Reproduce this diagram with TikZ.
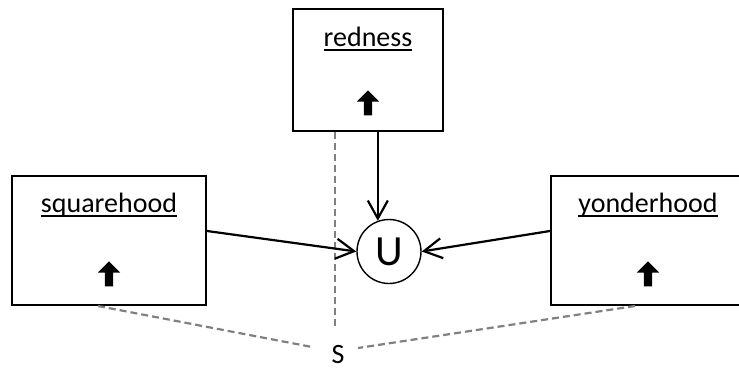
\documentclass[tikz,border=0pt]{standalone}
\usepackage{fontspec}
\setmainfont{Carlito}
\usetikzlibrary{arrows.meta,positioning,shapes.arrows}

\definecolor{dashgray}{RGB}{128,128,128}
\newcommand{\ulword}[1]{\setbox0\hbox{#1}\rlap{\rule[-4.5pt]{\wd0}{2pt}}\box0}

\begin{document}
\begin{tikzpicture}[x=1pt,y=-1pt,
  box/.style={draw,line width=2pt,minimum width=194pt,minimum height=129pt,inner sep=0pt},
  title/.style={font=\fontsize{28}{34}\selectfont,inner sep=0pt,anchor=base},
  uparrow/.style={single arrow,shape border rotate=90,fill=black,draw=none,inner sep=4pt,
    minimum height=25pt,minimum width=22pt,single arrow head extend=7pt,single arrow head indent=0pt},
  link/.style={line width=2.2pt,-{Straight Barb[length=18pt,width=20pt]}},
  tie/.style={dashgray,line width=2.2pt,dash pattern=on 7pt off 4pt}]

\useasboundingbox (0,0) rectangle (739,372);

% the three boxes
\node[box,minimum width=150pt,minimum height=122pt] (redness) at (368,70) {};
\node[box] (squarehood) at (109,240.5) {};
\node[box] (yonderhood) at (648,240.5) {};

\node[title] (rednessT) at ([yshift=-38pt]redness.north) {\ulword{redness}};
\node[title] (squarehoodT) at ([yshift=-37.5pt]squarehood.north) {\ulword{squarehood}};
\node[title] (yonderhoodT) at ([yshift=-37.5pt]yonderhood.north) {\ulword{yonderhood}};

\node[uparrow] (rednessA) at ([yshift=27pt]redness.south) {};
\node[uparrow] (squarehoodA) at ([yshift=30pt]squarehood.south) {};
\node[uparrow] (yonderhoodA) at ([yshift=30pt]yonderhood.south) {};

% union and S
\node[circle,draw,line width=1.4pt,minimum size=64pt,inner sep=0pt,
  font=\fontsize{43}{50}\selectfont] (U) at (389,251.5) {U};
\node[font=\fontsize{28}{34}\selectfont,inner sep=0pt] (S) at (338,355) {S};

% grey ties
\coordinate (vend) at (335,326);
\draw[tie] (redness.south -| vend) -- (vend);
\draw[tie] ([xshift=-11pt]squarehood.south) -- ([xshift=-26pt,yshift=8pt]S.center);
\draw[tie] ([xshift=-13pt]yonderhood.south) -- ([xshift=20pt,yshift=7pt]S.center);

% arrows into U
\draw[link] (redness.south -| U.110) -- (U.110);
\draw[link] ([yshift=9.5pt]squarehood.east) -- (U.west);
\draw[link] ([yshift=9.5pt]yonderhood.west) -- (U.east);

\end{tikzpicture}
\end{document}
